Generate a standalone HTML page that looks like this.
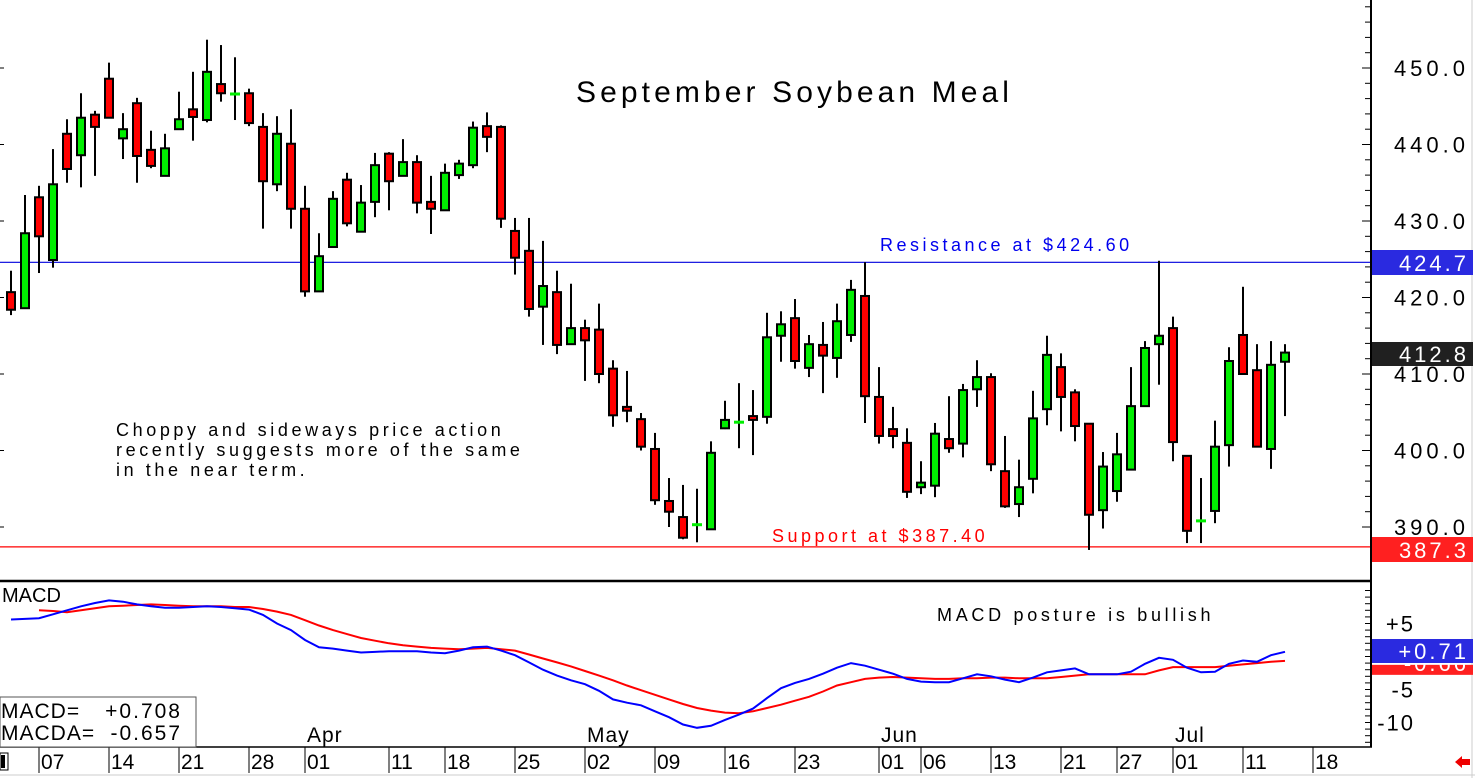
<!DOCTYPE html>
<html><head><meta charset="utf-8"><style>
html,body{margin:0;padding:0;background:#fff;}
svg{display:block;font-family:"Liberation Sans",sans-serif;}
</style></head><body>
<svg id="chart" width="1475" height="778" viewBox="0 0 1475 778" xmlns="http://www.w3.org/2000/svg">
<rect x="0" y="0" width="1475" height="778" fill="#fff"/>
<g id="grid"></g>
<g id="candles"></g>
<g id="macd"></g>
<g id="axes"></g>
</svg>
<script>
const opens=[420.7,418.6,433.1,424.9,441.4,438.6,443.9,448.6,440.8,445.4,439.3,435.9,442.0,444.6,443.2,447.9,446.6,446.7,442.3,434.8,440.1,431.6,420.8,426.6,435.4,428.6,432.5,438.8,435.9,437.7,432.5,431.4,436.0,437.3,442.4,442.3,428.7,426.1,418.8,420.7,413.9,416.0,415.8,410.7,405.7,404.1,400.2,393.4,391.3,390.3,389.7,402.9,403.7,404.5,404.4,415.0,417.3,410.8,413.8,412.1,415.1,420.2,407.0,402.8,401.0,395.2,395.4,401.5,400.9,408.0,409.6,397.3,393.0,396.3,405.4,410.9,407.6,403.5,392.2,394.7,397.5,405.8,413.9,416.0,399.3,390.8,392.1,400.7,415.1,410.5,400.2,411.6];
const highs=[423.5,433.4,434.6,439.4,443.3,446.7,444.4,450.7,444.1,446.1,441.8,441.4,446.9,449.5,453.7,453.0,451.4,447.3,444.1,443.7,444.6,434.6,428.4,433.9,436.3,434.7,438.9,439.0,440.7,438.6,435.9,437.5,438.0,443.0,444.2,442.5,430.4,430.4,427.4,423.5,421.8,417.1,419.2,411.8,410.4,404.9,402.3,396.4,395.5,395.0,401.2,406.5,408.8,407.9,418.0,418.2,419.8,415.1,416.8,419.2,422.3,424.6,410.9,405.7,402.9,398.6,403.6,407.1,408.7,411.8,410.1,401.9,398.8,407.8,415.0,412.7,408.0,403.5,399.8,402.3,410.9,414.3,424.8,417.5,399.3,396.4,403.9,413.5,421.4,413.9,414.3,413.9];
const lows=[417.7,418.6,423.2,423.9,435.0,434.4,435.9,445.4,438.1,435.0,436.9,435.9,442.0,440.5,442.9,445.6,443.2,442.4,429.0,433.9,429.0,420.1,420.8,426.6,429.3,428.6,430.5,431.4,435.9,431.0,428.3,431.4,435.5,436.9,439.0,429.1,423.0,417.5,413.8,412.6,413.9,409.1,408.8,403.1,403.7,400.0,392.9,390.0,388.4,388.0,389.7,402.8,400.3,399.4,403.5,411.6,410.7,409.6,407.5,409.5,414.2,403.6,400.9,400.3,393.8,394.3,393.9,399.7,399.1,405.7,397.3,392.5,391.3,394.4,403.3,402.5,401.2,387.0,389.8,393.3,397.5,405.8,408.6,398.6,387.9,387.9,390.5,397.9,410.0,400.5,397.6,404.5];
const closes=[418.4,428.4,428.0,434.8,436.8,443.5,442.3,443.5,442.0,438.5,437.2,439.5,443.3,443.6,449.5,446.7,446.6,442.8,435.2,441.4,431.6,420.8,425.4,432.9,429.7,432.4,437.3,435.2,437.7,432.4,431.6,436.3,437.5,442.2,441.0,430.3,425.2,418.5,421.5,413.8,416.0,414.4,410.0,404.6,405.2,400.5,393.5,392.0,388.6,390.3,399.7,404.0,403.7,404.0,414.8,416.5,411.7,413.9,412.4,416.9,421.0,407.1,401.9,401.9,394.6,395.8,402.2,400.3,407.9,409.6,398.2,392.7,395.2,404.2,412.5,407.0,403.2,391.6,397.9,399.5,405.8,413.4,415.0,401.1,389.5,390.8,400.5,411.7,410.0,400.5,411.2,412.8];
const macdLine=[5.6,5.7,5.8,6.4,7.0,7.6,8.1,8.5,8.3,7.9,7.6,7.4,7.4,7.5,7.6,7.5,7.3,7.1,6.3,5.0,4.0,2.5,1.4,1.2,0.9,0.6,0.7,0.8,0.8,0.8,0.6,0.5,0.9,1.4,1.5,0.9,0.2,-0.9,-2.0,-2.9,-3.6,-4.2,-5.2,-6.5,-7.0,-7.4,-8.3,-9.2,-10.3,-10.8,-10.5,-9.6,-8.8,-7.9,-6.3,-4.8,-4.0,-3.4,-2.6,-1.7,-1.0,-1.4,-2.0,-2.6,-3.4,-3.8,-3.9,-3.9,-3.3,-2.7,-3.0,-3.5,-3.9,-3.2,-2.4,-2.1,-1.8,-2.7,-2.7,-2.7,-2.3,-1.1,-0.2,-0.5,-1.7,-2.4,-2.3,-1.1,-0.6,-0.8,0.2,0.71];
const signalLine=[null,null,7.0,6.9,6.7,7.0,7.3,7.6,7.7,7.8,7.9,7.8,7.7,7.6,7.6,7.6,7.5,7.5,7.2,6.8,6.3,5.5,4.7,4.0,3.4,2.8,2.4,2.0,1.7,1.5,1.3,1.2,1.1,1.2,1.3,1.1,0.9,0.3,-0.3,-0.9,-1.5,-2.2,-2.9,-3.6,-4.4,-5.1,-5.8,-6.5,-7.2,-7.8,-8.2,-8.5,-8.6,-8.3,-7.8,-7.3,-6.7,-6.1,-5.3,-4.4,-3.9,-3.4,-3.2,-3.1,-3.2,-3.3,-3.4,-3.4,-3.3,-3.3,-3.2,-3.2,-3.3,-3.3,-3.3,-3.1,-2.9,-2.7,-2.7,-2.7,-2.7,-2.7,-2.1,-1.6,-1.6,-1.6,-1.6,-1.4,-1.2,-1.0,-0.8,-0.66];
const priceTicks=[450,440,430,420,410,400,390];
const macdTicks=[5,-5,-10];
const dayLabels=["07","14","21","28","01","11","18","25","02","09","16","23","01","06","13","21","27","01","11","18"];
const dayIdx=[2,7,12,17,21,27,31,36,41,46,51,56,62,65,70,75,79,83,88,93];
const monthLabels=["Apr","May","Jun","Jul"];
const monthIdx=[21,41,62,83];
const resistance=424.6, support=387.4;

const NS="http://www.w3.org/2000/svg";
const xS=i=>11+14*i;
const yP=p=>68+(450-p)*7.65;
const yM=v=>656.5-v*6.6;
function mk(tag,attrs,parent,text){const e=document.createElementNS(NS,tag);for(const k in attrs)e.setAttribute(k,attrs[k]);if(text!==undefined)e.textContent=text;parent.appendChild(e);return e;}
const gC=document.getElementById('candles'),gA=document.getElementById('axes'),gM=document.getElementById('macd'),gG=document.getElementById('grid');

let l=mk('line',{x1:0,x2:1372,y1:yP(resistance),y2:yP(resistance),stroke:'#0000dd','stroke-width':1.2},gG);


l=mk('line',{x1:0,x2:1372,y1:yP(support),y2:yP(support),stroke:'#ff0000','stroke-width':1.2},gG);



for(let i=0;i<opens.length;i++){
  const x=xS(i),o=opens[i],c=closes[i],h=highs[i],lo=lows[i];
  const g=mk('g',{},gC);
  
  
  mk('line',{x1:x,x2:x,y1:yP(h),y2:yP(lo),stroke:'#000','stroke-width':2},g);
  const top=yP(Math.max(o,c)),bot=yP(Math.min(o,c));
  if(bot-top<2){
    mk('rect',{x:x-5,y:top-1.5,width:10,height:3,fill:'#00ee00'},g);
  } else {
    mk('rect',{x:x-4,y:top,width:8,height:bot-top,fill:c>=o?'#00ee00':'#ff0000',stroke:'#000','stroke-width':2},g);
  }
}

function path(arr){let d='';arr.forEach((v,i)=>{if(v===null)return;d+=(d?'L':'M')+xS(i)+' '+yM(v).toFixed(1);});return d;}
l=mk('path',{d:path(signalLine),fill:'none',stroke:'#ff0000','stroke-width':2},gM);


l=mk('path',{d:path(macdLine),fill:'none',stroke:'#0000ff','stroke-width':2},gM);



mk('line',{x1:0,x2:1372,y1:581,y2:581,stroke:'#000','stroke-width':2.5},gA);
mk('line',{x1:1371,x2:1371,y1:0,y2:747,stroke:'#000','stroke-width':2},gA);
mk('line',{x1:0,x2:1372,y1:747,y2:747,stroke:'#000','stroke-width':1.5},gA);
mk('line',{x1:1472,x2:1472,y1:0,y2:778,stroke:'#ccc','stroke-width':1},gA);
mk('line',{x1:0,x2:1475,y1:775,y2:775,stroke:'#ccc','stroke-width':1},gA);
for(let p=392;p<=458;p+=2){const y=yP(p);if(y<2||y>578)continue;mk('line',{x1:1365,x2:1371,y1:y,y2:y,stroke:'#000','stroke-width':1},gA);}
for(let v=-13;v<=10;v+=1){const y=yM(v);if(y<585||y>745)continue;mk('line',{x1:1365,x2:1371,y1:y,y2:y,stroke:'#000','stroke-width':1},gA);}
priceTicks.forEach(p=>{const y=yP(p);mk('line',{x1:1362,x2:1371,y1:y,y2:y,stroke:'#000','stroke-width':1},gA);
  const t=mk('text',{x:1469,y:y+8,'font-size':22,'text-anchor':'end','letter-spacing':'4'},gA,p.toFixed(1));
  
  mk('line',{x1:0,x2:4,y1:y,y2:y,stroke:'#000','stroke-width':1},gA);});
macdTicks.forEach(v=>{const y=yM(v);
  const t=mk('text',{x:1415,y:y+8,'font-size':22,'text-anchor':'end','letter-spacing':'2'},gA,(v>0?'+':'')+v);
  });
dayLabels.forEach((s,k)=>{const x=xS(dayIdx[k]);
  mk('line',{x1:x,x2:x,y1:747,y2:773,stroke:'#000','stroke-width':1},gA);
  const t=mk('text',{x:x+2,y:769,'font-size':21},gA,s);
  });
monthLabels.forEach((s,k)=>{const t=mk('text',{x:xS(monthIdx[k])+2,y:742,'font-size':21,'letter-spacing':'1'},gA,s);
  });

function tag(y1,y2,fill,txt,name){const r=mk('rect',{x:1372,y:y1,width:101,height:y2-y1,fill:fill},gA);
  
  mk('text',{x:1469,y:y2-4,'font-size':22,'text-anchor':'end',fill:'#fff','letter-spacing':'3'},gA,txt);}
tag(yM(-0.66)+4,yM(-0.66)+14,'#ff2020','-0.66','macda-value-tag');
tag(639,663,'#2a2ae0','+0.71','macd-value-tag');
tag(250,275,'#2a2ae0','424.7','resistance-value-tag');
tag(537,562,'#ff2020','387.3','support-value-tag');
tag(342,366,'#202020','412.8','last-price-tag');
</script>
<svg style="position:absolute;left:0;top:0" width="1475" height="778">
<text x="576" y="102" font-family="Liberation Sans, sans-serif" font-size="30" letter-spacing="4.1">September Soybean Meal</text>
<text x="880" y="251" font-family="Liberation Sans, sans-serif" font-size="18" fill="#0000ee" letter-spacing="3.5">Resistance at $424.60</text>
<text x="772" y="542" font-family="Liberation Sans, sans-serif" font-size="18" fill="#ff0000" letter-spacing="3.5">Support at $387.40</text>
<g font-family="Liberation Sans, sans-serif" font-size="18" letter-spacing="3.6">
<text x="116" y="436">Choppy and sideways price action</text>
<text x="116" y="456">recently suggests more of the same</text>
<text x="116" y="476">in the near term.</text>
</g>
<text x="2" y="602" font-family="Liberation Sans, sans-serif" font-size="20">MACD</text>
<text x="937" y="621" font-family="Liberation Sans, sans-serif" font-size="18" letter-spacing="3.7">MACD posture is bullish</text>
<g>
<rect x="0" y="697" width="196" height="50" fill="#fff" stroke="#555" stroke-width="1"/>
<text x="1" y="718" font-family="Liberation Sans, sans-serif" font-size="21" letter-spacing="1">MACD=</text>
<text x="182" y="718" text-anchor="end" font-family="Liberation Sans, sans-serif" font-size="21" letter-spacing="2">+0.708</text>
<text x="1" y="740" font-family="Liberation Sans, sans-serif" font-size="21" letter-spacing="1">MACDA=</text>
<text x="182" y="740" text-anchor="end" font-family="Liberation Sans, sans-serif" font-size="21" letter-spacing="2">-0.657</text>
</g>
<rect x="0" y="753" width="8" height="17" fill="#fff" stroke="#000" stroke-width="1"/>
<rect x="1" y="755" width="4" height="13" fill="#000"/>
<polygon points="1455,762 1462,756 1462,759 1470,759 1470,765 1462,765 1462,768" fill="#ee0000"/>
</svg>
</body></html>
